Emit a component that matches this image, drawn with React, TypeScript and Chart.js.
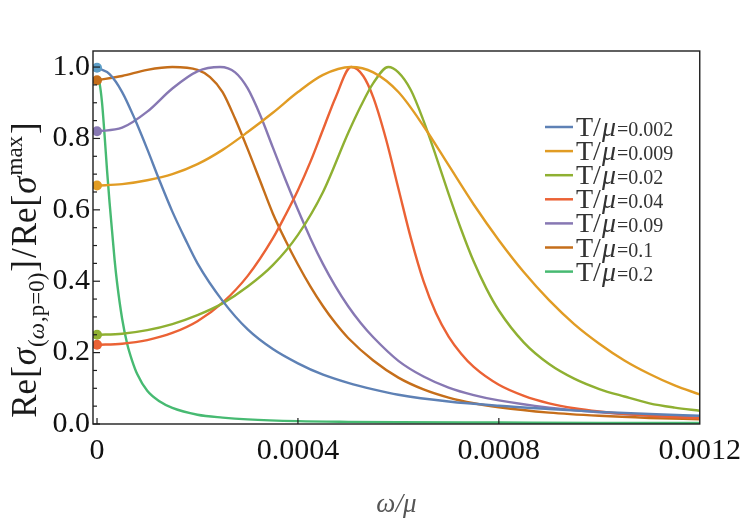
import React, { useEffect, useRef } from "react";
import { Chart, registerables } from "chart.js";

Chart.register(...registerables);

// ---------- data (x in units of 1e-4 of omega/mu) ----------
const seriesLabels = ["0.002", "0.009", "0.02", "0.04", "0.09", "0.1", "0.2"];
const lineColors = ["#5E81B5", "#E19C24", "#8FB032", "#EB6235", "#8778B3", "#C56E1A", "#47BA72"];
const dotColors = ["#5D9EC7", "#E19C24", "#8FB032", "#EB6235", "#8778B3", "#C56E1A", ""];

const xT002 = [0, 0.25, 0.5, 0.75, 1, 1.25, 1.5, 1.75, 2, 2.5, 3, 3.5, 4, 4.5, 5, 5.5, 6, 7, 8, 9, 10, 11, 12];
const yT002 = [0.998, 0.98, 0.93, 0.855, 0.77, 0.68, 0.595, 0.52, 0.45, 0.345, 0.265, 0.21, 0.17, 0.138, 0.115, 0.097, 0.082, 0.063, 0.051, 0.042, 0.034, 0.028, 0.023];

const xT009 = [0, 0.5, 1, 1.5, 2, 2.5, 3, 3.5, 4, 4.5, 5.05, 5.5, 6, 6.5, 7, 7.5, 8, 8.5, 9, 9.5, 10, 10.5, 11, 11.5, 12];
const yT009 = [0.668, 0.672, 0.683, 0.7, 0.728, 0.768, 0.818, 0.872, 0.93, 0.978, 1.0, 0.985, 0.93, 0.835, 0.725, 0.615, 0.515, 0.425, 0.347, 0.28, 0.225, 0.178, 0.14, 0.108, 0.083];

const xT02 = [0, 0.5, 1, 1.5, 2, 2.5, 3, 3.5, 4, 4.5, 5, 5.25, 5.5, 5.8, 6, 6.25, 6.5, 6.75, 7, 7.25, 7.5, 7.75, 8, 8.5, 9, 9.5, 10, 10.5, 11, 11.5, 12];
const yT02 = [0.25, 0.253, 0.263, 0.28, 0.305, 0.338, 0.385, 0.445, 0.53, 0.65, 0.815, 0.89, 0.955, 1.0, 0.985, 0.935, 0.85, 0.75, 0.645, 0.545, 0.455, 0.38, 0.318, 0.228, 0.168, 0.127, 0.098, 0.077, 0.058, 0.046, 0.037];

const xT04 = [0, 0.5, 1, 1.5, 2, 2.5, 3, 3.5, 3.75, 4, 4.25, 4.5, 4.75, 5.06, 5.3, 5.5, 5.75, 6, 6.25, 6.5, 6.75, 7, 7.25, 7.5, 8, 8.5, 9, 9.5, 10, 11, 12];
const yT04 = [0.222, 0.225, 0.235, 0.255, 0.288, 0.34, 0.415, 0.52, 0.585, 0.655, 0.735, 0.825, 0.915, 1.0, 0.975, 0.915, 0.8, 0.66, 0.52, 0.4, 0.31, 0.245, 0.197, 0.16, 0.11, 0.079, 0.058, 0.044, 0.035, 0.023, 0.016];

const xT09 = [0, 0.5, 1, 1.5, 2, 2.45, 2.75, 3, 3.25, 3.5, 3.75, 4, 4.25, 4.5, 4.75, 5, 5.25, 5.5, 6, 6.5, 7, 7.5, 8, 9, 10, 11, 12];
const yT09 = [0.82, 0.83, 0.875, 0.94, 0.988, 1.0, 0.985, 0.94, 0.865, 0.775, 0.685, 0.6, 0.52, 0.448, 0.385, 0.33, 0.283, 0.243, 0.177, 0.133, 0.102, 0.081, 0.066, 0.046, 0.033, 0.024, 0.018];

const xT1 = [0, 0.5, 1, 1.5, 2, 2.25, 2.5, 2.75, 3, 3.25, 3.5, 3.75, 4, 4.25, 4.5, 4.75, 5, 5.5, 6, 6.5, 7, 7.5, 8, 9, 10, 11, 12];
const yT1 = [0.963, 0.975, 0.992, 1.0, 0.992, 0.972, 0.93, 0.855, 0.77, 0.68, 0.59, 0.515, 0.447, 0.385, 0.33, 0.282, 0.241, 0.178, 0.13, 0.097, 0.074, 0.058, 0.047, 0.032, 0.023, 0.017, 0.013];

const xT2 = [0, 0.05, 0.1, 0.15, 0.2, 0.25, 0.3, 0.35, 0.4, 0.5, 0.6, 0.7, 0.8, 1, 1.25, 1.5, 2, 2.5, 3, 4, 5, 6, 8, 10, 12];
const yT2 = [0.97, 0.955, 0.9, 0.81, 0.71, 0.62, 0.54, 0.46, 0.395, 0.295, 0.225, 0.177, 0.14, 0.093, 0.063, 0.045, 0.026, 0.018, 0.013, 0.008, 0.006, 0.005, 0.004, 0.003, 0.003];

const seriesX = [xT002, xT009, xT02, xT04, xT09, xT1, xT2];
const seriesY = [yT002, yT009, yT02, yT04, yT09, yT1, yT2];

const xTickValues = [0, 4, 8, 12];
const xTickLabels = ["0", "0.0004", "0.0008", "0.0012"];
const yTickValues = [0, 0.2, 0.4, 0.6, 0.8, 1.0];
const yTickLabels = ["0.0", "0.2", "0.4", "0.6", "0.8", "1.0"];

const FONT = '"Liberation Serif", "Times New Roman", serif';

type Piece = { t: string; f: string; dy: number; gap?: number };

function piecesWidth(ctx: CanvasRenderingContext2D, pieces: Piece[]) {
  let w = 0;
  for (const p of pieces) {
    ctx.font = p.f;
    w += ctx.measureText(p.t).width + (p.gap || 0);
  }
  return w;
}

function drawPieces(ctx: CanvasRenderingContext2D, pieces: Piece[], x0: number, y0: number) {
  let u = x0;
  for (const p of pieces) {
    ctx.font = p.f;
    ctx.fillText(p.t, u, y0 + p.dy);
    u += ctx.measureText(p.t).width + (p.gap || 0);
  }
  return u;
}

const decorPlugin = {
  id: "decor",
  afterDatasetsDraw(chart: any) {
    const { ctx, chartArea: a, scales } = chart;
    const xs = scales.x;
    const ys = scales.y;
    ctx.save();
    // frame
    ctx.strokeStyle = "#1e1e1e";
    ctx.lineWidth = 1.4;
    ctx.strokeRect(a.left, a.top, a.right - a.left, a.bottom - a.top);
    // y ticks (inward)
    ctx.lineWidth = 1.2;
    for (let i = 0; i <= 20; i++) {
      const py = ys.getPixelForValue(i * 0.05);
      const len = i % 4 === 0 ? 7 : 4;
      ctx.beginPath();
      ctx.moveTo(a.left, py);
      ctx.lineTo(a.left + len, py);
      ctx.stroke();
    }
    // x ticks (inward)
    for (const v of xTickValues) {
      const px = xs.getPixelForValue(v);
      if (px > a.right - 2) continue;
      ctx.beginPath();
      ctx.moveTo(px, a.bottom);
      ctx.lineTo(px, a.bottom - 6);
      ctx.stroke();
    }

    // legend
    ctx.textBaseline = "alphabetic";
    ctx.textAlign = "left";
    for (let i = 0; i < seriesLabels.length; i++) {
      const y = 127 + i * 24.1;
      ctx.strokeStyle = lineColors[i];
      ctx.lineWidth = 2.5;
      ctx.beginPath();
      ctx.moveTo(545, y);
      ctx.lineTo(573, y);
      ctx.stroke();
      ctx.fillStyle = "#333";
      const base = y + 9;
      drawPieces(
        ctx,
        [
          { t: "T", f: `28px ${FONT}`, dy: 0, gap: 0 },
          { t: "/", f: `28px ${FONT}`, dy: 0, gap: 1 },
          { t: "μ", f: `italic 28px ${FONT}`, dy: 0, gap: 1 },
          { t: "=" + seriesLabels[i], f: `20px ${FONT}`, dy: 0 },
        ],
        576,
        base
      );
    }

    // x title
    ctx.fillStyle = "#555";
    ctx.font = `italic 27px ${FONT}`;
    ctx.textAlign = "center";
    ctx.fillText("ω/μ", (a.left + a.right) / 2, 512);

    // y title
    ctx.textAlign = "left";
    ctx.fillStyle = "#1a1a1a";
    const B = 35;
    const S = 23;
    const big = `${B}px ${FONT}`;
    const bigI = `italic ${B}px ${FONT}`;
    const sm = `${S}px ${FONT}`;
    const smI = `italic ${S}px ${FONT}`;
    const sub = 0.24 * B;
    const sup = -0.4 * B;
    const pieces: Piece[] = [
      { t: "Re", f: big, dy: 0, gap: 1 },
      { t: "[", f: big, dy: 0, gap: 1 },
      { t: "σ", f: bigI, dy: 0, gap: 1 },
      { t: "(", f: sm, dy: sub },
      { t: "ω", f: smI, dy: sub, gap: 1 },
      { t: ",p=0)", f: sm, dy: sub, gap: 1 },
      { t: "]", f: big, dy: 0, gap: 2 },
      { t: "/", f: big, dy: 0, gap: 2 },
      { t: "Re", f: big, dy: 0, gap: 1 },
      { t: "[", f: big, dy: 0, gap: 1 },
      { t: "σ", f: bigI, dy: 0, gap: 1 },
      { t: "max", f: sm, dy: sup, gap: 2 },
      { t: "]", f: big, dy: 0 },
    ];
    const total = piecesWidth(ctx, pieces);
    ctx.translate(36, 270 + total / 2);
    ctx.rotate(-Math.PI / 2);
    drawPieces(ctx, pieces, 0, 0);
    ctx.restore();
  },
};

export default function App() {
  const ref = useRef<HTMLCanvasElement>(null);
  useEffect(() => {
    document.body.style.margin = "0";
    const datasets = seriesLabels.map((lab, i) => ({
      label: "T/μ=" + lab,
      data: seriesX[i].map((x, j) => ({ x, y: seriesY[i][j] })),
      borderColor: lineColors[i],
      backgroundColor: dotColors[i] || lineColors[i],
      borderWidth: 2.4,
      cubicInterpolationMode: "monotone" as const,
      pointRadius: (c: any) => (dotColors[i] && c.dataIndex === 0 ? 5 : 0),
      pointBorderWidth: 0,
      pointBackgroundColor: dotColors[i] || lineColors[i],
      pointHoverRadius: 0,
      fill: false,
    }));
    const chart = new Chart(ref.current as HTMLCanvasElement, {
      type: "line",
      data: { datasets },
      options: {
        responsive: false,
        animation: false,
        devicePixelRatio: 1,
        layout: { padding: { top: 51, right: 49, bottom: 0, left: 0 } },
        plugins: { legend: { display: false }, tooltip: { enabled: false } },
        scales: {
          x: {
            type: "linear",
            min: -0.08,
            max: 12,
            grid: { display: false, drawTicks: false },
            border: { display: false },
            ticks: {
              font: { family: FONT, size: 30 },
              color: "#111",
              padding: 9,
              maxRotation: 0,
              autoSkip: false,
              callback: (_v: any, idx: number) => xTickLabels[idx],
            },
            afterBuildTicks: (s: any) => {
              s.ticks = xTickValues.map((v) => ({ value: v }));
            },
            afterFit: (s: any) => {
              s.height = 99;
            },
          },
          y: {
            type: "linear",
            min: 0,
            max: 1.045,
            grid: { display: false, drawTicks: false },
            border: { display: false },
            ticks: {
              font: { family: FONT, size: 30 },
              color: "#111",
              padding: 3,
              autoSkip: false,
              callback: (_v: any, idx: number) => yTickLabels[idx],
            },
            afterBuildTicks: (s: any) => {
              s.ticks = yTickValues.map((v) => ({ value: v }));
            },
            afterFit: (s: any) => {
              s.width = 93;
            },
          },
        },
      },
      plugins: [decorPlugin],
    } as any);
    return () => chart.destroy();
  }, []);
  return (
    <div style={{ width: 750, height: 523, position: "relative" }}>
      <canvas ref={ref} width={750} height={523} style={{ display: "block", width: 750, height: 523 }} />
    </div>
  );
}
